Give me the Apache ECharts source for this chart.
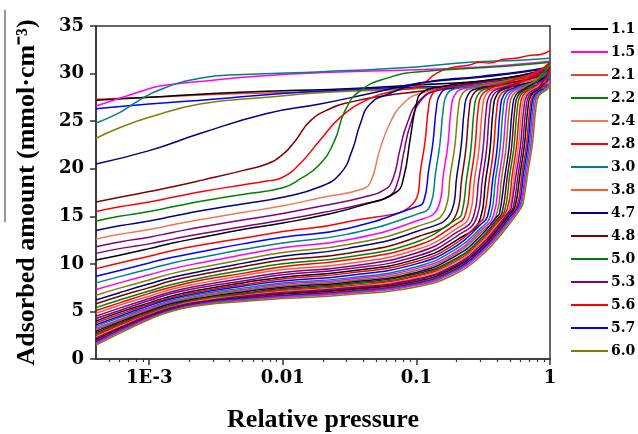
<!DOCTYPE html>
<html>
<head>
<meta charset="utf-8">
<script src="https://cdn.jsdelivr.net/npm/echarts@6/dist/echarts.min.js"></script>
<style>
  html, body { margin: 0; padding: 0; background: #fff; }
  #chart { width: 638px; height: 434px; }
</style>
</head>
<body>
<div id="chart"></div>
<script>
// x ticks (log axis)
var xTickValues = [0.001, 0.01, 0.1, 1];
var xTickLabels = ['1E-3', '0.01', '0.1', '1'];
var xMinorTicks = [0.0005, 0.0006, 0.0007, 0.0008, 0.0009,
    0.002, 0.003, 0.004, 0.005, 0.006, 0.007, 0.008, 0.009,
    0.02, 0.03, 0.04, 0.05, 0.06, 0.07, 0.08, 0.09,
    0.2, 0.3, 0.4, 0.5, 0.6, 0.7, 0.8, 0.9];

var legendNames = ['1.1', '1.5', '2.1', '2.2', '2.4', '2.8', '3.0', '3.8', '4.7', '4.8', '5.0', '5.3', '5.6', '5.7', '6.0'];

// curves filled at very low pressure + first steps, read as [p, amount]
var topXY = [
    [[0.0004,27.3],[0.001,27.5],[0.003,27.8],[0.01,28.0],[0.03,28.2],[0.1,28.5],[0.3,28.9],[0.6,29.4],[1,29.9]],
    [[0.0004,27.2],[0.001,27.5],[0.003,27.9],[0.01,28.2],[0.03,28.4],[0.1,28.8],[0.3,29.2],[0.6,29.7],[1,30.3]],
    [[0.0004,26.6],[0.0006,27.4],[0.001,28.4],[0.0012,28.7],[0.003,29.3],[0.006,29.7],[0.02,30.1],[0.1,30.4],[0.3,30.7],[0.6,31.0],[1,31.3]],
    [[0.0004,26.3],[0.001,26.8],[0.003,27.3],[0.01,27.9],[0.03,28.3],[0.1,28.6],[0.4,28.7],[1,28.8]],
    [[0.0004,24.8],[0.0006,25.9],[0.0008,27.0],[0.0012,28.3],[0.0024,29.5],[0.005,29.9],[0.02,30.2],[0.1,30.7],[0.25,31.2],[0.6,31.4],[1,31.6]],
    [[0.0004,23.2],[0.0006,24.3],[0.001,25.4],[0.0024,26.8],[0.0076,27.5],[0.02,28.0],[0.1,28.4],[0.4,28.9],[1,29.4]],
    [[0.0004,20.5],[0.001,21.9],[0.0024,23.7],[0.0076,25.8],[0.019,26.8],[0.045,27.9],[0.106,29.0],[0.3,29.6],[0.6,30.1],[1,30.6]],
    [[0.0004,16.5],[0.0006,17.0],[0.001,17.6],[0.0015,18.1],[0.0025,18.8],[0.005,19.8],[0.0076,20.5],[0.01,21.5],[0.0125,23.0],[0.016,25.0],[0.0225,26.3],[0.032,27.0],[0.06,27.7],[0.1,28.1],[0.2,28.6],[0.4,29.1],[0.7,29.7],[1,30.2]],
    [[0.0004,15.5],[0.0006,16.0],[0.001,16.5],[0.0015,17.0],[0.0025,17.6],[0.005,18.3],[0.0076,18.7],[0.01,19.1],[0.0134,20.5],[0.019,23.0],[0.027,25.4],[0.045,27.4],[0.07,28.2],[0.106,28.7],[0.14,30.0],[0.18,30.6],[0.25,30.9],[0.3,31.2],[0.35,31.1],[0.45,31.5],[0.55,31.6],[0.7,31.9],[0.85,32.0],[1,32.4]],
    [[0.0004,14.5],[0.0006,15.0],[0.001,15.5],[0.0015,16.0],[0.0025,16.6],[0.005,17.3],[0.01,18.0],[0.0134,18.9],[0.019,20.5],[0.0245,23.0],[0.029,26.0],[0.038,28.2],[0.063,29.6],[0.106,30.2],[0.3,30.6],[0.6,30.9],[1,31.2]],
    [[0.0004,13.5],[0.0006,14.0],[0.001,14.5],[0.0015,15.0],[0.0025,15.6],[0.005,16.3],[0.01,17.0],[0.019,18.1],[0.027,19.5],[0.033,21.9],[0.038,24.7],[0.045,26.8],[0.063,27.9],[0.106,29.0],[0.3,29.7],[0.6,30.2],[1,30.7]],
    [[0.0004,12.6],[0.0006,13.1],[0.001,13.6],[0.0015,14.1],[0.0025,14.7],[0.005,15.4],[0.01,16.1],[0.02,17.0],[0.04,17.9],[0.046,18.8],[0.053,21.9],[0.063,24.7],[0.079,26.8],[0.106,27.9],[0.2,28.6],[0.5,29.4],[1,30.1]],
    [[0.0004,11.8],[0.0006,12.3],[0.001,12.8],[0.0015,13.3],[0.0025,13.9],[0.005,14.6],[0.01,15.3],[0.02,16.1],[0.04,17.0],[0.058,17.8],[0.067,19.0],[0.075,21.9],[0.085,24.7],[0.106,27.2],[0.15,28.3],[0.3,29.0],[0.6,29.6],[1,30.4]],
    [[0.0004,11.1],[0.0006,11.6],[0.001,12.1],[0.0015,12.6],[0.0025,13.2],[0.005,13.9],[0.01,14.6],[0.02,15.4],[0.04,16.3],[0.062,17.1],[0.072,18.5],[0.08,21.5],[0.09,24.6],[0.11,27.3],[0.15,28.3],[0.3,29.1],[0.6,29.8],[1,30.6]],
    [[0.0004,10.4],[0.0006,10.9],[0.001,11.6],[0.0015,12.2],[0.0025,12.8],[0.005,13.6],[0.01,14.3],[0.02,15.1],[0.04,16.2],[0.07,17.5],[0.08,19.0],[0.09,23.2],[0.1,26.8],[0.11,28.0],[0.15,28.6],[0.3,29.2],[0.6,29.8],[1,30.5]]
];

// remaining curves: low-pressure part on a shared pressure grid ...
var gridX = [0.0004, 0.0006, 0.001, 0.0015, 0.0025, 0.005, 0.01, 0.03, 0.1, 0.2, 0.3, 0.4, 0.5, 0.6];
var lowY = [
    [9.5,10.1,10.8,11.4,12.0,12.7,13.4,14.4],
    [8.7,9.3,10.1,10.7,11.3,12.1,12.8,13.7,16.0],
    [8.0,8.66,9.45,10.1,10.7,11.5,12.2,13.1,15.2],
    [7.3,8.0,8.85,9.5,10.15,10.95,11.7,12.5,14.5],
    [6.7,7.45,8.3,9.0,9.65,10.45,11.2,12.0,13.9],
    [6.2,6.97,7.9,8.6,9.25,10.05,10.8,11.6,13.4],
    [5.8,6.6,7.5,8.25,8.9,9.7,10.4,11.1,12.8],
    [5.4,6.2,7.15,7.85,8.55,9.3,10.0,10.7,12.3,14.7],
    [5.1,5.9,6.9,7.6,8.3,9.0,9.7,10.4,11.9,14.2],
    [4.8,5.65,6.6,7.35,8.0,8.75,9.4,10.0,11.5,13.7],
    [4.5,5.35,6.35,7.1,7.75,8.45,9.1,9.7,11.15,13.3],
    [4.25,5.1,6.15,6.9,7.55,8.2,8.85,9.45,10.8,12.9],
    [4.0,4.9,5.9,6.65,7.3,8.0,8.6,9.2,10.5,12.5],
    [3.8,4.7,5.75,6.5,7.15,7.8,8.4,9.0,10.25,12.2,14.4],
    [3.6,4.5,5.6,6.35,7.0,7.65,8.2,8.75,10.0,11.9,14.1],
    [3.4,4.35,5.4,6.2,6.85,7.45,8.0,8.5,9.7,11.6,13.7],
    [3.2,4.15,5.3,6.05,6.7,7.3,7.85,8.35,9.5,11.3,13.45],
    [3.05,4.05,5.15,5.95,6.6,7.2,7.7,8.2,9.3,11.1,13.2],
    [2.9,3.9,5.05,5.85,6.45,7.05,7.55,8.05,9.1,10.9,12.9,14.95],
    [2.75,3.75,4.95,5.7,6.35,6.9,7.4,7.9,8.95,10.6,12.6,14.65],
    [2.6,3.65,4.85,5.65,6.3,6.85,7.3,7.8,8.8,10.5,12.5,14.45],
    [2.45,3.55,4.75,5.55,6.2,6.75,7.2,7.65,8.7,10.3,12.3,14.25],
    [2.3,3.4,4.65,5.5,6.15,6.65,7.1,7.55,8.55,10.2,12.1,14.05],
    [2.2,3.3,4.6,5.45,6.05,6.6,7.0,7.45,8.4,10.0,11.9,13.85,15.6],
    [2.1,3.25,4.55,5.35,6.0,6.5,6.9,7.35,8.3,9.85,11.7,13.65,15.4],
    [2.0,3.15,4.45,5.3,5.95,6.4,6.8,7.25,8.15,9.7,11.55,13.45,15.2],
    [1.9,3.1,4.4,5.25,5.9,6.35,6.72,7.15,8.05,9.55,11.4,13.3,15.0],
    [1.8,3.0,4.35,5.2,5.85,6.3,6.64,7.05,7.95,9.45,11.3,13.1,14.9],
    [1.7,2.95,4.3,5.15,5.8,6.25,6.56,7.0,7.85,9.35,11.1,13.0,14.7],
    [1.6,2.85,4.25,5.1,5.75,6.15,6.48,6.9,7.75,9.2,11.0,12.8,14.5,16.0],
    [1.45,2.7,4.15,5.05,5.65,6.05,6.35,6.75,7.57,9.0,10.75,12.55,14.25,15.75]
];
// ... and their condensation step + plateau as [p, amount]
var stepXY = [
    [[0.0986,16.7],[0.108,20.1],[0.116,22.85],[0.123,26.3],[0.13,27.7],[0.151,28.4],[0.4,28.9],[0.7,29.4],[1,30.0]],
    [[0.113,16.5],[0.124,20.0],[0.133,22.75],[0.141,26.3],[0.149,27.7],[0.173,28.4],[0.4,28.7],[0.7,29.1],[1,29.6]],
    [[0.1275,16.2],[0.1395,19.7],[0.15,22.6],[0.159,26.3],[0.168,27.7],[0.195,28.4],[0.4,29.0],[0.7,29.8],[1,30.8]],
    [[0.146,16.0],[0.16,19.6],[0.172,22.5],[0.182,26.3],[0.193,27.7],[0.224,28.4],[0.45,28.9],[0.75,29.3],[1,29.9]],
    [[0.165,15.8],[0.18,19.5],[0.194,22.4],[0.206,26.3],[0.217,27.7],[0.252,28.4],[0.45,29.2],[0.75,30.0],[1,31.0]],
    [[0.184,15.6],[0.201,19.3],[0.216,22.3],[0.229,26.3],[0.242,27.7],[0.281,28.4],[0.5,28.8],[0.8,29.1],[1,29.4]],
    [[0.2,15.3],[0.219,19.1],[0.235,22.15],[0.249,26.3],[0.263,27.7],[0.306,28.4],[0.5,29.0],[0.8,29.7],[1,30.5]],
    [[0.218,15.2],[0.238,19.0],[0.256,22.1],[0.271,26.3],[0.287,27.7],[0.333,28.4],[0.55,28.9],[0.8,29.3],[1,29.8]],
    [[0.233,15.2],[0.255,19.0],[0.274,22.1],[0.29,26.3],[0.307,27.7],[0.356,28.4],[0.55,29.4],[0.8,30.2],[1,31.2]],
    [[0.25,15.1],[0.273,19.0],[0.294,22.05],[0.312,26.3],[0.329,27.7],[0.382,28.4],[0.6,29.0],[0.85,29.5],[1,30.0]],
    [[0.268,15.0],[0.293,18.9],[0.315,22.0],[0.334,26.3],[0.353,27.7],[0.41,28.4],[0.65,28.9],[1,29.5]],
    [[0.285,15.0],[0.312,18.9],[0.335,22.0],[0.355,26.3],[0.375,27.7],[0.436,28.4],[0.65,29.3],[1,30.6]],
    [[0.302,14.85],[0.33,18.8],[0.355,21.9],[0.376,26.3],[0.398,27.7],[0.46,28.4],[0.7,29.0],[1,29.8]],
    [[0.32,14.9],[0.351,18.8],[0.377,21.95],[0.4,26.3],[0.422,27.7],[0.49,28.4],[0.7,29.6],[1,31.0]],
    [[0.341,15.0],[0.373,18.9],[0.401,22.0],[0.425,26.3],[0.449,27.7],[0.52,28.4],[0.75,29.0],[1,29.7]],
    [[0.359,15.1],[0.392,19.0],[0.422,22.05],[0.447,26.3],[0.473,27.7],[0.549,28.4],[0.8,29.3],[1,30.4]],
    [[0.378,15.1],[0.414,19.0],[0.445,22.05],[0.472,26.3],[0.498,27.7],[0.579,28.4],[0.8,28.9],[1,29.6]],
    [[0.398,15.2],[0.435,19.1],[0.468,22.1],[0.496,26.3],[0.524,27.7],[0.608,28.4],[0.8,29.4],[1,30.9]],
    [[0.419,15.3],[0.458,19.1],[0.493,22.15],[0.523,26.3],[0.552,27.7],[0.641,28.4],[0.85,29.3],[1,30.2]],
    [[0.438,15.4],[0.479,19.2],[0.515,22.2],[0.546,26.3],[0.577,27.7],[0.67,28.4],[0.85,28.8],[1,29.4]],
    [[0.456,15.5],[0.499,19.3],[0.537,22.25],[0.569,26.3],[0.601,27.7],[0.698,28.4],[0.85,29.6],[1,31.1]],
    [[0.477,15.7],[0.522,19.4],[0.561,22.35],[0.595,26.3],[0.628,27.7],[0.729,28.4],[0.88,29.2],[1,30.3]],
    [[0.494,15.7],[0.54,19.4],[0.581,22.35],[0.616,26.3],[0.651,27.7],[0.755,28.4],[0.9,29.1],[1,29.9]],
    [[0.511,15.8],[0.559,19.5],[0.601,22.4],[0.637,26.3],[0.673,27.7],[0.781,28.4],[0.9,28.7],[1,28.9]],
    [[0.53,15.9],[0.579,19.5],[0.623,22.45],[0.66,26.3],[0.698,27.7],[0.81,28.4],[0.92,29.5],[1,30.7]],
    [[0.547,16.0],[0.599,19.6],[0.644,22.5],[0.683,26.3],[0.721,27.7],[0.837,28.4],[0.93,29.1],[1,29.8]],
    [[0.567,16.1],[0.62,19.7],[0.667,22.55],[0.707,26.3],[0.747,27.7],[0.867,28.4],[0.94,29.3],[1,30.4]],
    [[0.581,16.1],[0.636,19.7],[0.684,22.55],[0.725,26.3],[0.766,27.7],[0.889,28.4],[1,28.8]],
    [[0.597,16.2],[0.653,19.7],[0.702,22.6],[0.744,26.3],[0.786,27.7],[0.913,28.5],[1,30.0]],
    [[0.613,16.3],[0.671,19.8],[0.721,22.65],[0.764,26.3],[0.808,27.7],[0.937,28.4],[1,29.3]],
    [[0.629,16.4],[0.688,19.9],[0.74,22.7],[0.784,26.3],[0.829,27.7],[0.962,28.4],[1,29.0]]
];

// curve index (top to bottom) that carries each legend label
var legendCurve = { '2.1': 0, '1.1': 1, '1.5': 2, '3.0': 4, '2.8': 8, '2.2': 9, '2.4': 11, '3.8': 24,
    '4.7': 33, '4.8': 34, '5.0': 35, '5.3': 39, '5.6': 41, '5.7': 42, '6.0': 45 };

var C = {
    black: '#000000', red: '#ff0000', red2: '#ee3a3a', blue: '#0000ff', dc: '#008080',
    mag: '#ff00ff', olive: '#808000', navy: '#000080', wine: '#800000', green: '#008000',
    coral: '#f07858', ored: '#ff5a36', purple: '#800080'
};
var curveColors = [C.red2, C.black, C.mag, C.blue, C.dc, C.olive, C.navy,
    C.wine, C.red, C.green, C.navy, C.coral, C.purple, C.purple, C.black,
    C.red, C.blue, C.dc, C.mag, C.olive, C.navy, C.wine, C.green, C.red, C.ored,
    C.purple, C.purple, C.black, C.red, C.blue, C.dc, C.mag, C.olive,
    C.navy, C.wine, C.green, C.red, C.coral, C.purple, C.purple, C.black,
    C.red, C.blue, C.dc, C.mag, C.olive];

var curves = topXY.slice();
lowY.forEach(function (row, i) {
    var pts = row.map(function (y, k) { return [gridX[k], y]; });
    curves.push(pts.concat(stepXY[i]));
});

var names = curves.map(function (d, i) { return 'c' + i; });
Object.keys(legendCurve).forEach(function (k) { names[legendCurve[k]] = k; });

var series = curves.map(function (d, i) {
    return {
        type: 'line',
        name: names[i],
        data: d,
        symbol: 'none',
        smooth: 0.5,
        lineStyle: { width: 1.5, color: curveColors[i] },
        itemStyle: { color: curveColors[i] },
        emphasis: { disabled: true }
    };
});

var numFont = { fontFamily: 'DejaVu Serif', fontWeight: 'bold', fontSize: 18, color: '#000' };
var titleFont = { fontFamily: 'Liberation Serif', fontWeight: 'bold', fontSize: 26, color: '#000' };

var chart = echarts.init(document.getElementById('chart'), null, { renderer: 'canvas' });
chart.setOption({
    animation: false,
    backgroundColor: '#fff',
    grid: { left: 96, right: 88, top: 26, bottom: 75, show: true, borderColor: '#333', borderWidth: 1.5,
        containLabel: false, outerBoundsMode: 'none' },
    legend: {
        orient: 'vertical', left: 565, top: 17,
        itemWidth: 37, itemHeight: 14, itemGap: 9,
        data: legendNames,
        itemStyle: { opacity: 0 },
        lineStyle: { width: 2 },
        textStyle: { fontFamily: 'DejaVu Serif', fontWeight: 'bold', fontSize: 14, color: '#000', padding: [0, 0, 0, -2] }
    },
    graphic: [{ type: 'line', shape: { x1: 5, y1: 10, x2: 5, y2: 222 }, style: { stroke: '#333', lineWidth: 1 } }],
    xAxis: [{
        type: 'log', logBase: 10, min: 0.0004, max: 1,
        name: 'Relative pressure', nameLocation: 'middle', nameGap: 48, nameTextStyle: titleFont,
        axisLine: { lineStyle: { color: '#333', width: 1.5 } },
        axisTick: { customValues: xTickValues, length: 6, lineStyle: { color: '#333', width: 1.5 } },
        axisLabel: Object.assign({
            customValues: xTickValues, margin: 10,
            formatter: function (v) {
                var k = Math.round(Math.log10(v));
                for (var j = 0; j < xTickValues.length; j++) {
                    if (Math.round(Math.log10(xTickValues[j])) === k) return xTickLabels[j];
                }
                return '';
            }
        }, numFont),
        splitLine: { show: false }, minorTick: { show: false }
    }, {
        type: 'log', logBase: 10, min: 0.0004, max: 1, position: 'bottom',
        axisLine: { show: false },
        axisTick: { customValues: xMinorTicks, length: 3, lineStyle: { color: '#333', width: 1.2 } },
        axisLabel: { show: false },
        splitLine: { show: false }
    }],
    yAxis: {
        type: 'value', min: 0, max: 35, interval: 5,
        name: 'Adsorbed amount (mmol·cm⁻³)', nameLocation: 'middle', nameGap: 56, nameTextStyle: titleFont,
        axisLine: { show: true, lineStyle: { color: '#333', width: 1.5 } },
        axisTick: { show: true, length: 6, lineStyle: { color: '#333', width: 1.5 } },
        axisLabel: Object.assign({ margin: 12 }, numFont),
        splitLine: { show: false }
    },
    series: series
});
</script>
</body>
</html>
